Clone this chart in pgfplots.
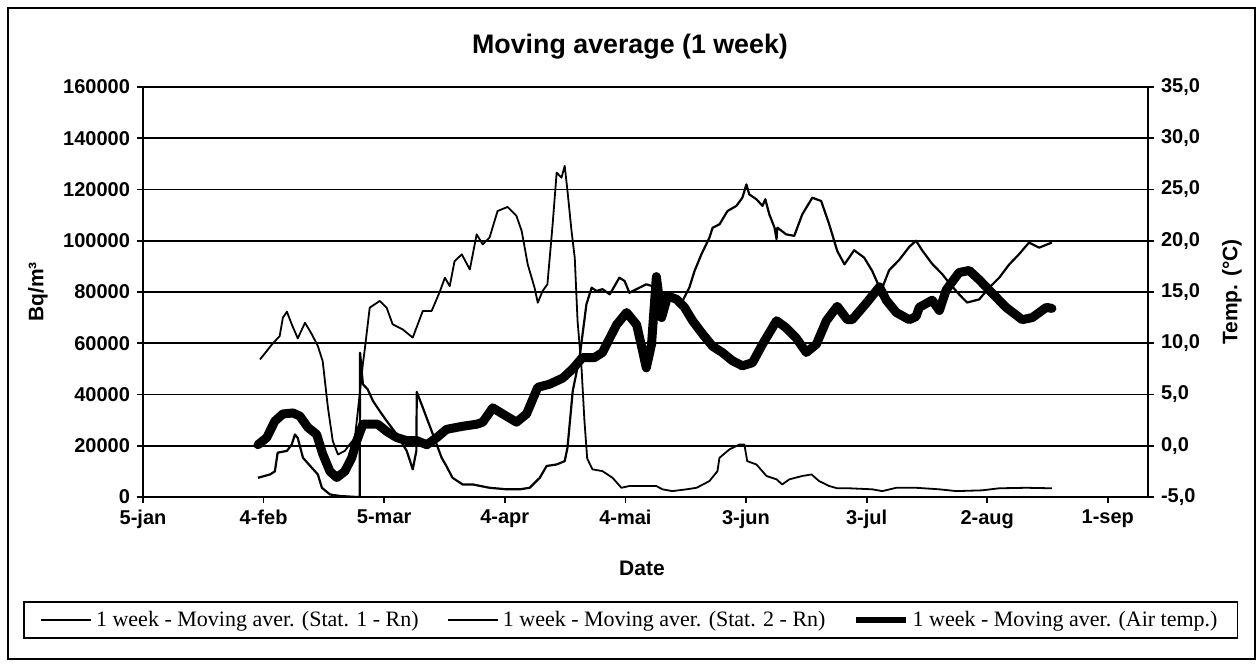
\documentclass[border=0pt]{standalone}
\usepackage{fontspec}
\setmainfont{Liberation Sans}
\newfontfamily\legendfont{Liberation Serif}
\usepackage{pgfplots}
\pgfplotsset{compat=1.18}
\usepackage{pgfplotstable}

% x = days after 5 January
\pgfplotstableread{
day val
29.1 53700
30.3 56000
32.1 59600
34.0 62800
34.8 70000
35.8 72300
37.0 67400
38.5 61900
40.3 68000
42.0 63500
43.5 58900
44.7 53000
46.0 34900
47.2 21900
48.5 16600
50.2 18000
51.4 20500
52.7 23000
53.9 40000
54.7 52000
55.2 58000
56.4 73900
58.9 76500
60.6 73900
62.1 67400
64.6 65400
67.1 62200
69.6 72600
71.8 72600
73.8 80000
75.1 85600
76.3 82300
77.5 92000
79.3 94700
81.3 88800
83.0 102500
84.5 98600
86.2 101200
88.2 111600
90.7 113200
92.9 109700
94.2 103800
95.7 90800
97.4 81700
98.2 75800
99.4 80400
100.6 83000
101.9 106400
102.9 126600
104.1 124600
104.9 129200
105.6 119400
106.6 103800
107.4 93400
108.1 68700
109.1 50000
109.8 30000
110.5 15000
111.8 10800
114.3 10100
116.8 7500
119.0 3600
121.0 4300
127.7 4300
129.2 3000
131.7 2300
135.2 3000
137.7 3600
140.9 6200
142.9 10100
143.4 15300
145.9 18600
148.4 20500
149.6 20500
150.3 14000
152.6 12700
155.1 8200
157.6 6900
159.0 4900
160.8 6900
164.0 8200
166.3 8800
168.2 6200
170.7 4300
172.7 3400
175.7 3400
181.4 3000
183.9 2300
187.4 3600
192.3 3600
198.1 3000
202.3 2300
208.7 2600
213.0 3400
219.7 3600
226.1 3400
}\statone

\pgfplotstableread{
day val
28.6 7500
31.6 8800
32.8 10000
33.5 17300
35.8 18000
37.0 20500
37.8 24400
38.5 23000
39.8 15300
42.0 11400
43.5 8800
44.5 3600
46.5 1000
49.0 400
53.2 0
53.9 0
54.0 56300
54.7 44000
55.9 42000
57.2 37500
58.9 33500
60.6 29700
63.1 24500
65.6 18000
67.1 10800
68.0 18000
68.1 41000
69.6 34900
72.1 24500
74.3 15300
75.5 12000
77.0 7500
79.5 4900
82.0 4900
86.2 3600
90.5 3000
93.7 3000
96.2 3600
98.7 7500
100.4 12100
102.9 12700
104.9 14000
105.6 19300
106.9 41400
108.6 54400
110.3 75200
111.6 81700
112.8 80400
114.3 81100
116.1 79100
117.3 82300
118.5 85600
119.8 84300
121.0 79700
123.5 81700
125.2 83000
126.7 82300
127.5 82000
128.0 86300
128.5 80000
130.2 79100
131.7 77800
134.2 76500
135.9 81700
137.2 88200
138.9 94700
140.9 101200
141.7 105100
143.4 106400
145.4 111600
147.6 113600
149.1 116800
150.1 122000
150.8 118100
152.6 116200
154.1 113600
154.8 116200
155.8 110300
157.1 105100
157.6 100600
157.8 105100
160.0 102500
162.0 101900
164.0 110300
166.5 116800
168.7 115500
170.7 106400
172.7 96000
174.5 90800
176.9 96300
179.4 93400
181.4 88200
183.6 80400
185.6 88500
188.1 92500
190.6 97600
192.3 100000
193.8 96300
196.3 91000
198.8 87000
200.5 83600
203.0 79100
205.0 75900
208.0 77100
210.5 81700
213.0 85600
215.5 90800
217.9 94700
220.4 99300
222.9 97300
226.1 99300
}\stattwo

\pgfplotstableread{
day val
28.6 0.1
30.8 0.8
32.8 2.4
34.8 3.1
37.3 3.2
39.0 2.9
41.0 1.8
43.2 1.1
44.7 -0.8
46.5 -2.5
48.2 -3.1
50.2 -2.5
51.9 -1.2
53.2 0.5
54.7 2.1
56.4 2.1
58.4 2.1
60.6 1.4
63.1 0.8
65.6 0.5
68.1 0.5
70.6 0.1
73.1 0.8
75.5 1.6
79.5 1.9
83.0 2.1
84.5 2.3
87.0 3.7
89.5 3.1
92.9 2.3
95.4 3.1
98.2 5.7
101.1 6.0
104.4 6.6
106.9 7.5
109.3 8.6
112.3 8.6
114.3 9.1
116.1 10.5
117.8 11.8
120.3 13.0
122.8 11.8
124.3 9.2
125.2 7.6
126.5 9.9
127.7 16.5
129.0 12.5
130.5 14.6
132.7 14.3
134.7 13.5
136.7 12.2
139.2 10.9
141.7 9.7
144.1 9.1
146.6 8.3
149.1 7.8
151.6 8.1
154.1 9.9
157.6 12.2
160.0 11.5
162.5 10.5
165.0 9.1
167.5 9.9
170.0 12.2
172.7 13.6
175.2 12.3
176.4 12.3
179.9 13.9
183.2 15.5
184.9 14.2
187.4 13.0
190.6 12.3
192.3 12.6
193.1 13.5
196.3 14.2
198.1 13.2
199.8 15.2
203.0 16.9
205.5 17.1
208.0 16.2
211.2 14.9
214.7 13.5
218.7 12.3
221.2 12.5
224.7 13.5
226.1 13.4
}\airtemp

\begin{document}
\begin{tikzpicture}
\path[use as bounding box] (0pt,0pt) rectangle (630pt,333pt);
\fill[white] (0pt,0pt) rectangle (630pt,333pt);
\draw[line width=1pt] (4pt,3.5pt) rectangle (627.5pt,329pt);

\begin{axis}[
  at={(71.5pt,84.5pt)}, anchor=south west,
  scale only axis, width=502.5pt, height=205pt,
  xmin=0, xmax=250, ymin=0, ymax=160000,
  scaled y ticks=false,
  axis x line*=bottom, axis y line*=left,
  axis line style={line width=1.3pt, -},
  xtick={0,30,...,240},
  xticklabels={5-jan,4-feb,5-mar,4-apr,4-mai,3-jun,3-jul,2-aug,1-sep},
  ytick={0,20000,...,160000},
  yticklabels={0,20000,40000,60000,80000,100000,120000,140000,160000},
  ymajorgrids, grid style={black, line width=0.9pt},
  tick align=outside, major tick length=3pt,
  tick style={black, line width=0.9pt},
  ticklabel style={font=\fontsize{10}{12}\selectfont\bfseries},
  /pgf/number format/assume math mode=true,
  xlabel={Date}, ylabel={Bq/m³},
  label style={font=\fontsize{10.5}{12}\selectfont\bfseries},
  ylabel style={at={(axis description cs:-0.1045,0.5)}, anchor=center},
  xlabel style={at={(axis description cs:0.4965,-0.175)}, anchor=center},
  title={Moving average (1 week)},
  title style={at={(axis description cs:0.4846,1.07)}, anchor=center, font=\fontsize{13.4}{15}\selectfont\bfseries},
  legend columns=3,
  legend cell align=left,
  legend style={at={(axis description cs:0.4855,-0.30)}, anchor=center, draw=black, line width=0.8pt,
    font=\legendfont\fontsize{11}{12}\selectfont, inner xsep=8pt, inner ysep=2.5pt,
    /tikz/every even column/.append style={column sep=12pt}},
  legend image code/.code={\draw[#1] (0pt,0pt) -- (25pt,0pt);},
]
\addplot[black, line width=0.9pt, line join=round] table[x=day, y=val] {\statone};
\addlegendentry{1 week - Moving aver. (Stat. 1 - Rn)}
\addplot[black, line width=1.1pt, line join=round] table[x=day, y=val] {\stattwo};
\addlegendentry{1 week - Moving aver. (Stat. 2 - Rn)}
\addlegendimage{black, line width=2.6pt}
\addlegendentry{1 week - Moving aver. (Air temp.)}
\end{axis}

\begin{axis}[
  at={(71.5pt,84.5pt)}, anchor=south west,
  scale only axis, width=502.5pt, height=205pt,
  xmin=0, xmax=250, ymin=-5, ymax=35,
  axis x line=none, axis y line*=right,
  axis line style={line width=1.1pt, -},
  ytick={-5,0,...,35},
  yticklabels={{-5,0},{0,0},{5,0},{10,0},{15,0},{20,0},{25,0},{30,0},{35,0}},
  tick align=outside, major tick length=3pt,
  tick style={black, line width=0.9pt},
  ticklabel style={font=\fontsize{10}{12}\selectfont\bfseries},
  ylabel={Temp. (°C)},
  label style={font=\fontsize{10.5}{12}\selectfont\bfseries},
  ylabel style={at={(axis description cs:1.0836,0.5)}, anchor=center},
]
\addplot[black, line width=4.5pt, line join=round, line cap=round] table[x=day, y=val] {\airtemp};
\end{axis}
\end{tikzpicture}
\end{document}
